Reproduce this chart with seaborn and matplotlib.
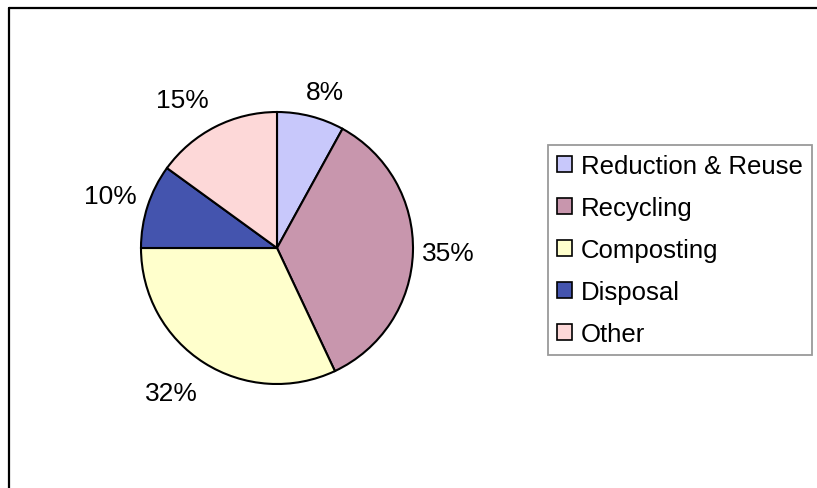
import numpy as np
import matplotlib
matplotlib.use("Agg")
import matplotlib.pyplot as plt
from matplotlib.patches import Patch
from matplotlib.lines import Line2D
import seaborn as sns

# Waste-management share by category
categories = ["Reduction & Reuse", "Recycling", "Composting", "Disposal", "Other"]
shares = [8, 35, 32, 10, 15]
slice_colors = ["#c8c8fb", "#c896ad", "#ffffcc", "#4454ae", "#fdd8d8"]

# label nudges (pixels) away from each wedge's outer edge midpoint
label_offsets = [(14, 24), (35, -1), (-33, -30), (-37, 10), (-33, 27)]

sns.set_theme(style="white")
plt.rcParams["font.family"] = ["Liberation Sans", "DejaVu Sans"]
plt.rcParams["text.color"] = "black"

W, H = 817, 489
fig = plt.figure(figsize=(W / 100, H / 100), dpi=100)
fig.patch.set_facecolor("white")
ax = fig.add_axes([0, 0, 1, 1])

cx, cy, R = 277, H - 249, 136
wedges, _ = ax.pie(
    shares,
    colors=slice_colors,
    startangle=90,
    counterclock=False,
    center=(cx, cy),
    radius=R,
    wedgeprops=dict(edgecolor="black", linewidth=1.5),
)
ax.set_xlim(0, W)
ax.set_ylim(0, H)
ax.set_aspect("auto")
ax.axis("off")

for w, v, (dx, dy) in zip(wedges, shares, label_offsets):
    mid = np.deg2rad((w.theta1 + w.theta2) / 2)
    ex, ey = cx + R * np.cos(mid), cy + R * np.sin(mid)
    ax.annotate(f"{v}%", xy=(ex, ey), xytext=(dx, dy), textcoords="offset pixels",
                ha="center", va="center", fontsize=19, color="black")

handles = [Patch(facecolor=c, edgecolor="black", linewidth=1.2) for c in slice_colors]
leg = fig.legend(
    handles, categories,
    loc="upper left",
    bbox_to_anchor=(548 / W, 1 - 146 / H),
    bbox_transform=fig.transFigure,
    borderaxespad=0,
    fontsize=18.5,
    frameon=True,
    fancybox=False,
    handlelength=0.58,
    handleheight=0.58,
    handletextpad=0.35,
    labelspacing=0.7,
    borderpad=0.35,
)
leg.get_frame().set_edgecolor("#808080")
leg.get_frame().set_linewidth(1.3)
for t in leg.get_texts():
    t.set_color("black")

# chart-area border (left and top edges)
fig.add_artist(Line2D([8.5 / W, 1.0], [1 - 8.5 / H, 1 - 8.5 / H],
                      transform=fig.transFigure, color="black", linewidth=1.6))
fig.add_artist(Line2D([8.5 / W, 8.5 / W], [0.0, 1 - 8.5 / H],
                      transform=fig.transFigure, color="black", linewidth=1.6))

fig.savefig("out.png", dpi=100, facecolor="white")
